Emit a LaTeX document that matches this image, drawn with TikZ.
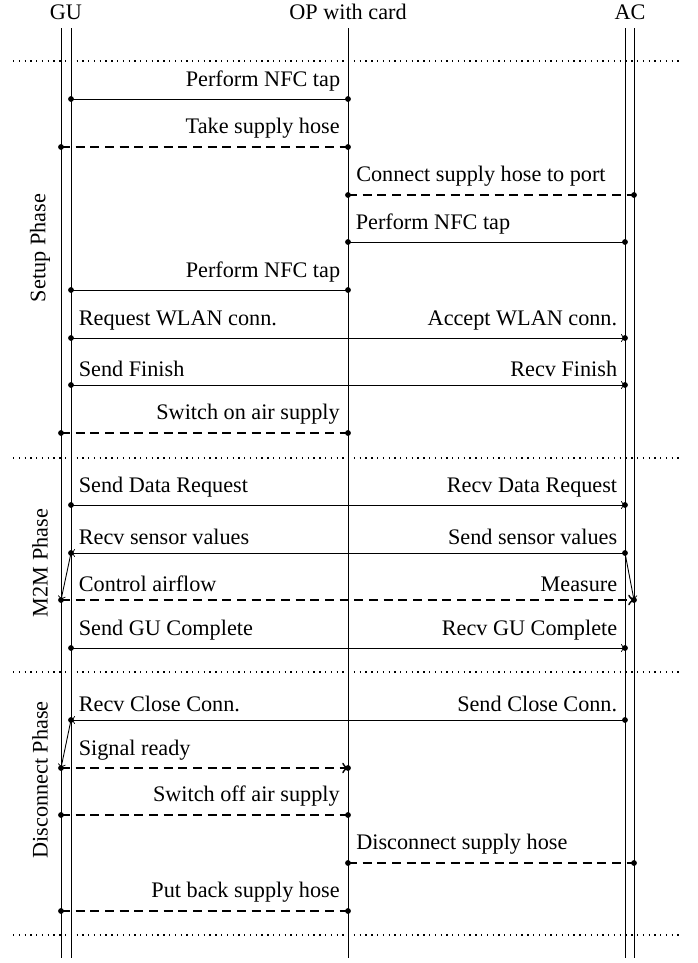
\documentclass[tikz,border=0pt]{standalone}
\usepackage{fontspec}
\setmainfont{Liberation Serif}
\tikzset{
  life/.style={thin},
  tap/.style={thin},
  msg/.style={thin,->},
  act/.style={thick,dash pattern=on 4pt off 2.6pt},
  sep/.style={semithick,dotted},
  phase/.style={rotate=90},
}
\newcommand{\pins}[2]{\fill (#1) circle (1.3pt) (#2) circle (1.3pt);}
\begin{document}
\begin{tikzpicture}[x=0.45pt,y=-0.45pt]
  \useasboundingbox (0,0) rectangle (697,963);
  % lifelines
  \node (GU) at (66,12) {GU};
  \node (OP) at (348,12) {OP with card};
  \node (AC) at (630,12) {AC};
  \coordinate (guo) at (61,28);  \coordinate (guob) at (61,958);
  \coordinate (gui) at (71,28);  \coordinate (guib) at (71,958);
  \coordinate (opt) at (348,28); \coordinate (opb) at (348,958);
  \coordinate (aci) at (625,28); \coordinate (acib) at (625,958);
  \coordinate (aco) at (634,28); \coordinate (acob) at (634,958);
  \draw[life] (guo) -- (guob);
  \draw[life] (gui) -- (guib);
  \draw[life] (opt) -- (opb);
  \draw[life] (aci) -- (acib);
  \draw[life] (aco) -- (acob);
  % one row per message
  \foreach \n/\y in {1/99,2/147,3/195,4/242,5/290,6/338,7/385,8/433,9/505,
                     10/553,11/600,12/648,13/720,14/768,15/815,16/863,17/911} {
    \coordinate (go\n) at (61,\y);
    \coordinate (gi\n) at (71,\y);
    \coordinate (op\n) at (348,\y);
    \coordinate (ai\n) at (625,\y);
    \coordinate (ao\n) at (634,\y);
  }
  % phase separators
  \foreach \s/\y in {1/61,2/458,3/672,4/935} {
    \coordinate (sl\s) at (13,\y);
    \coordinate (sr\s) at (681,\y);
    \draw[sep] (sl\s) -- (sr\s);
  }
  \node[phase] (setup) at (40,248) {Setup Phase};
  \node[phase] (mtm) at (40,563) {M2M Phase};
  \node[phase] (disc) at (40,780) {Disconnect Phase};

  % setup phase
  \draw[tap] (gi1) -- (op1) node[above left] (t1) {Perform NFC tap};
  \pins{gi1}{op1}
  \draw[act] (go2) -- (op2) node[above left] (t2) {Take supply hose};
  \pins{go2}{op2}
  \draw[act] (op3) node[above right] (t3) {Connect supply hose to port} -- (ao3);
  \pins{op3}{ao3}
  \draw[tap] (op4) node[above right] (t4) {Perform NFC tap} -- (ai4);
  \pins{op4}{ai4}
  \draw[tap] (gi5) -- (op5) node[above left] (t5) {Perform NFC tap};
  \pins{gi5}{op5}
  \draw[msg] (gi6) node[above right] (t6a) {Request WLAN conn.} -- (ai6) node[above left] (t6b) {Accept WLAN conn.};
  \pins{gi6}{ai6}
  \draw[msg] (gi7) node[above right] (t7a) {Send Finish} -- (ai7) node[above left] (t7b) {Recv Finish};
  \pins{gi7}{ai7}
  \draw[act] (go8) -- (op8) node[above left] (t8) {Switch on air supply};
  \pins{go8}{op8}

  % m2m phase
  \draw[msg] (gi9) node[above right] (t9a) {Send Data Request} -- (ai9) node[above left] (t9b) {Recv Data Request};
  \pins{gi9}{ai9}
  \draw[msg] (ai10) node[above left] (t10b) {Send sensor values} -- (gi10) node[above right] (t10a) {Recv sensor values};
  \pins{gi10}{ai10}
  \draw[->] (gi10) -- (go11);
  \draw[->] (ai10) -- (ao11);
  \draw[act,->] (go11) -- (ao11);
  \node[above right] (t11a) at (gi11) {Control airflow};
  \node[above left] (t11b) at (ai11) {Measure};
  \pins{go11}{ao11}
  \draw[msg] (gi12) node[above right] (t12a) {Send GU Complete} -- (ai12) node[above left] (t12b) {Recv GU Complete};
  \pins{gi12}{ai12}

  % disconnect phase
  \draw[msg] (ai13) node[above left] (t13b) {Send Close Conn.} -- (gi13) node[above right] (t13a) {Recv Close Conn.};
  \pins{gi13}{ai13}
  \draw[->] (gi13) -- (go14);
  \draw[act,->] (go14) -- (op14);
  \node[above right] (t14) at (gi14) {Signal ready};
  \pins{go14}{op14}
  \draw[act] (go15) -- (op15) node[above left] (t15) {Switch off air supply};
  \pins{go15}{op15}
  \draw[act] (op16) node[above right] (t16) {Disconnect supply hose} -- (ao16);
  \pins{op16}{ao16}
  \draw[act] (go17) -- (op17) node[above left] (t17) {Put back supply hose};
  \pins{go17}{op17}
\end{tikzpicture}
\end{document}
